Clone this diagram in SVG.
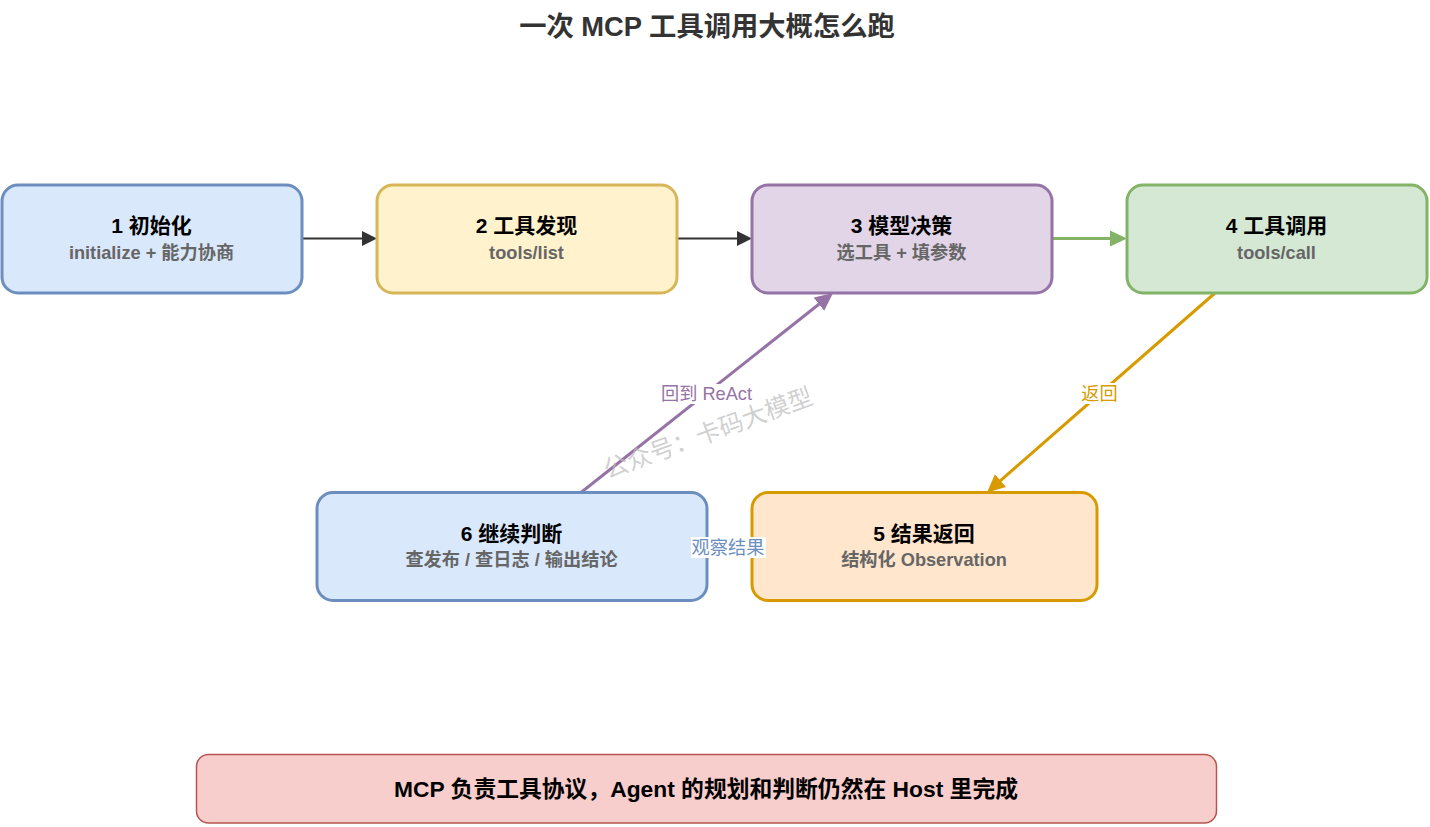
<svg xmlns="http://www.w3.org/2000/svg" width="1430" height="827" viewBox="0 0 1430 827">
<style>
text{font-family:"Liberation Sans","Noto Sans CJK SC",sans-serif;text-anchor:middle}
.box{stroke-width:3}
.t{font-size:21px;font-weight:bold;fill:#000}
.s{font-size:18.2px;font-weight:bold;fill:#666}
.l{font-size:18.2px}
.c{fill:none;stroke-width:3}
</style>
<defs>
<marker id="aK" markerUnits="userSpaceOnUse" markerWidth="16" markerHeight="16" refX="5" refY="8" orient="auto"><path d="M0 .5L15 8L0 15.500z" fill="#333"/></marker>
<marker id="aG" markerUnits="userSpaceOnUse" markerWidth="18" markerHeight="18" refX="7" refY="9" orient="auto"><path d="M0 1L17 9L0 17z" fill="#82b366"/></marker>
<marker id="aP" markerUnits="userSpaceOnUse" markerWidth="19" markerHeight="18" refX="8" refY="9" orient="auto"><path d="M0 .5L18 9L0 17.500z" fill="#9673a6"/></marker>
<marker id="aO" markerUnits="userSpaceOnUse" markerWidth="19" markerHeight="18" refX="8" refY="9" orient="auto"><path d="M0 .5L18 9L0 17.500z" fill="#d79b00"/></marker>
<marker id="aB" markerUnits="userSpaceOnUse" markerWidth="19" markerHeight="18" refX="8" refY="9" orient="auto"><path d="M0 .5L18 9L0 17.500z" fill="#6c8ebf"/></marker>
</defs>
<text x="707" y="35.500" style="font-size:27.300px;font-weight:bold;fill:#333">一次 MCP 工具调用大概怎么跑</text>
<g id="connectors">
<path class="c" style="stroke-width:2" stroke="#333" d="M302 238.500H367" marker-end="url(#aK)"/>
<path class="c" style="stroke-width:2" stroke="#333" d="M677 238.500H742" marker-end="url(#aK)"/>
<path class="c" stroke="#82b366" d="M1052 238.500H1117" marker-end="url(#aG)"/>
<path class="c" stroke="#d79b00" d="M1215 293L994.500 485.900" marker-end="url(#aO)"/>
<path class="c" stroke="#6c8ebf" d="M752 546.500H717" marker-end="url(#aB)"/>
<path class="c" stroke="#9673a6" d="M581 492.500L825.200 299.200" marker-end="url(#aP)"/>
<g id="edge-labels">
<rect x="1081" y="383" width="37" height="21" fill="#fff"/>
<text class="l" x="1099.500" y="400" fill="#d79b00">返回</text>
<rect x="660" y="384" width="93" height="20" fill="#fff"/>
<text class="l" x="706.500" y="400" fill="#9673a6">回到 ReAct</text>
</g>
</g>
<g id="n1"><rect class="box" x="2" y="185" width="300" height="108" rx="16" fill="#dae8fc" stroke="#6c8ebf"/><text class="t" x="151.500" y="233">1 初始化</text><text class="s" x="151.500" y="259">initialize + 能力协商</text></g>
<g id="n2"><rect class="box" x="377" y="185" width="300" height="108" rx="16" fill="#fff2cc" stroke="#d6b656"/><text class="t" x="526.500" y="233">2 工具发现</text><text class="s" x="526.500" y="259">tools/list</text></g>
<g id="n3"><rect class="box" x="752" y="185" width="300" height="108" rx="16" fill="#e1d5e7" stroke="#9673a6"/><text class="t" x="901.500" y="233">3 模型决策</text><text class="s" x="901.500" y="259">选工具 + 填参数</text></g>
<g id="n4"><rect class="box" x="1127" y="185" width="300" height="108" rx="16" fill="#d5e8d4" stroke="#82b366"/><text class="t" x="1276.500" y="233">4 工具调用</text><text class="s" x="1276.500" y="259">tools/call</text></g>
<g id="n5"><rect class="box" x="752" y="492.500" width="345" height="108" rx="16" fill="#ffe6cc" stroke="#d79b00"/><text class="t" x="924" y="541">5 结果返回</text><text class="s" x="924" y="566">结构化 Observation</text></g>
<g id="n6"><rect class="box" x="317" y="492.500" width="390" height="108" rx="16" fill="#dae8fc" stroke="#6c8ebf"/><text class="t" x="511.500" y="541">6 继续判断</text><text class="s" x="511.500" y="566">查发布 / 查日志 / 输出结论</text></g>
<g id="label-observe"><rect x="691" y="537" width="75" height="21" fill="#fff"/><text class="l" x="728" y="553.500" fill="#6c8ebf">观察结果</text></g>
<g id="note"><rect x="196.500" y="754.500" width="1020" height="68.500" rx="12" fill="#f8cecc" stroke="#b85450" stroke-width="1.500"/><text x="706" y="797" style="font-size:22.800px;font-weight:bold;fill:#000">MCP 负责工具协议，Agent 的规划和判断仍然在 Host 里完成</text></g>
<text x="711" y="441" transform="rotate(-20 711 441)" style="font-size:24.500px;fill:#bbb;fill-opacity:.7">公众号：卡码大模型</text>
</svg>
